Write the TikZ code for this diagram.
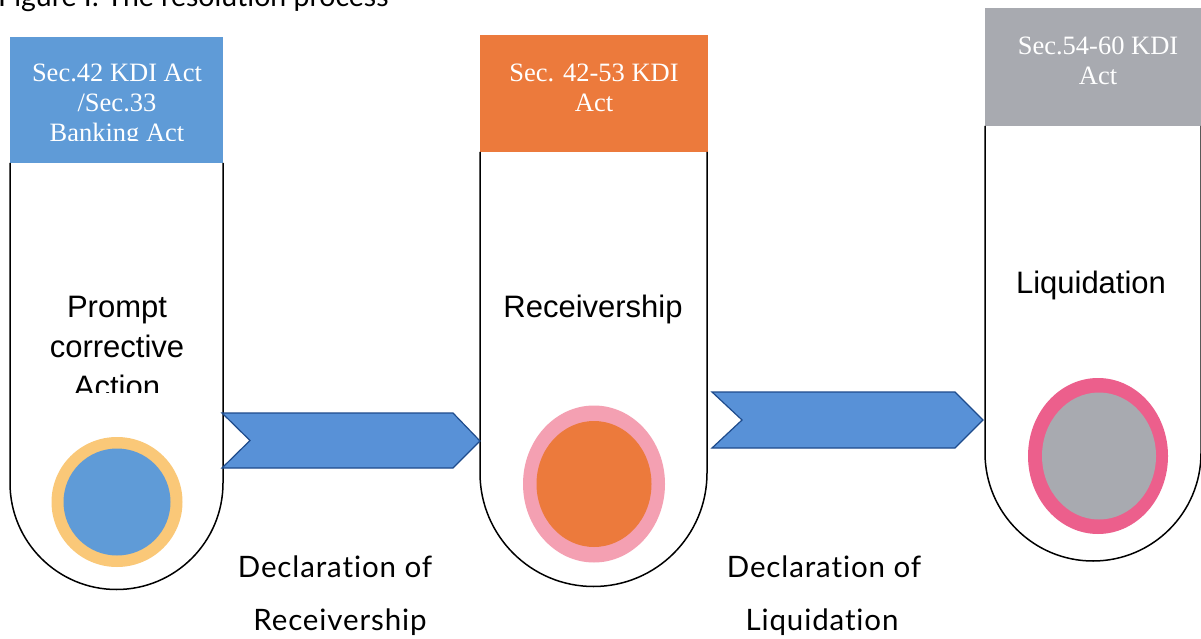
\documentclass[tikz,border=0pt]{standalone}
\usepackage{fontspec}
\setmainfont{Liberation Serif}
\newfontfamily\tubefont{Liberation Sans}
\newfontfamily\labfont[Ligatures=NoCommon, LetterSpace=3]{Lato}
\newfontfamily\titlefont[Ligatures=NoCommon]{Lato}
\definecolor{hblue}{RGB}{95,155,215}
\definecolor{horange}{RGB}{236,122,60}
\definecolor{hgray}{RGB}{168,170,176}
\definecolor{arrfill}{RGB}{88,145,215}
\definecolor{arrdraw}{RGB}{30,75,140}
\definecolor{ringyellow}{RGB}{250,200,120}
\definecolor{ringpink}{RGB}{244,160,178}
\definecolor{ringmag}{RGB}{236,95,140}
\tikzset{
  header/.style={inner sep=0pt, text=white, font=\fontsize{26.5}{30}\selectfont, align=center, anchor=base},
  tubetext/.style={inner sep=0pt, font=\tubefont\fontsize{31}{40}\selectfont, anchor=base},
  labtext/.style={inner sep=0pt, font=\labfont\fontsize{29.5}{40}\selectfont, anchor=base},
  tubeline/.style={draw=black, line width=1.5pt},
  blockarrow/.style={fill=arrfill, draw=arrdraw, line width=1.2pt, line join=miter}
}
\begin{document}
\begin{tikzpicture}[x=1pt,y=-1pt]
\useasboundingbox (0,0) rectangle (1201,639);
\clip (0,0) rectangle (1201,639);
\fill[white] (0,0) rectangle (1201,639);
% title (cut at top)
\node[inner sep=0pt, font=\titlefont\fontsize{28.5}{34}\selectfont, anchor=base west] (title) at (-2,7) {Figure I: The resolution process};
% headers
\fill[hblue] (10,37) rectangle (223,163);
\fill[horange] (480,35) rectangle (708,152);
\fill[hgray] (985,8) rectangle (1201,126);
% tubes
\draw[tubeline] (10,163) -- (10,483) arc[start angle=180, end angle=360, radius=106.5pt] -- (223,163);
\draw[tubeline] (480,152) -- (480,473) arc[start angle=180, end angle=360, radius=113.5pt] -- (707,152);
\draw[tubeline] (985,126) -- (985,453) arc[start angle=180, end angle=360, radius=108pt] -- (1201,126);
% header texts
\begin{scope}
\clip (10,37) rectangle (223,141);
\node[header] (h1a) at (117,82) {Sec.42 KDI Act};
\node[header] (h1b) at (117,112) {/Sec.33};
\node[header] (h1c) at (117,142) {Banking Act};
\end{scope}
\node[header] (h2a) at (594,82) {Sec. 42-53 KDI};
\node[header] (h2b) at (594,112) {Act};
\node[header] (h3a) at (1098,55) {Sec.54-60 KDI};
\node[header] (h3b) at (1098,85) {Act};
% tube texts
\begin{scope}
\clip (10,250) rectangle (223,392);
\node[tubetext] (t1a) at (117,317) {Prompt};
\node[tubetext] (t1b) at (117,357) {corrective};
\node[tubetext] (t1c) at (117,397) {Action};
\end{scope}
\node[tubetext] (t2) at (593,317) {Receivership};
\node[tubetext] (t3) at (1091,293) {Liquidation};
% circles
\fill[ringyellow] (117,502) ellipse[x radius=65.5pt, y radius=65pt];
\fill[hblue] (117,502) ellipse[x radius=53.5pt, y radius=53.5pt];
\fill[ringpink] (594,484) ellipse[x radius=71pt, y radius=78.5pt];
\fill[horange] (594,484) ellipse[x radius=57.5pt, y radius=63pt];
\fill[ringmag] (1098,456) ellipse[x radius=70pt, y radius=78pt];
\fill[hgray] (1099,456) ellipse[x radius=57pt, y radius=63.5pt];
% block arrows
\draw[blockarrow] (222,413) -- (453,413) -- (480,441) -- (453,468) -- (222,468) -- (250,440.5) -- cycle;
\draw[blockarrow] (712,392) -- (955,392) -- (983,420) -- (955,448) -- (712,448) -- (742,420) -- cycle;
% labels
\node[labtext] (l1a) at (335,577) {Declaration of};
\node[labtext] (l1b) at (340,630) {Receivership};
\node[labtext] (l2a) at (824,577) {Declaration of};
\node[labtext] (l2b) at (822,630) {Liquidation};
\end{tikzpicture}
\end{document}
